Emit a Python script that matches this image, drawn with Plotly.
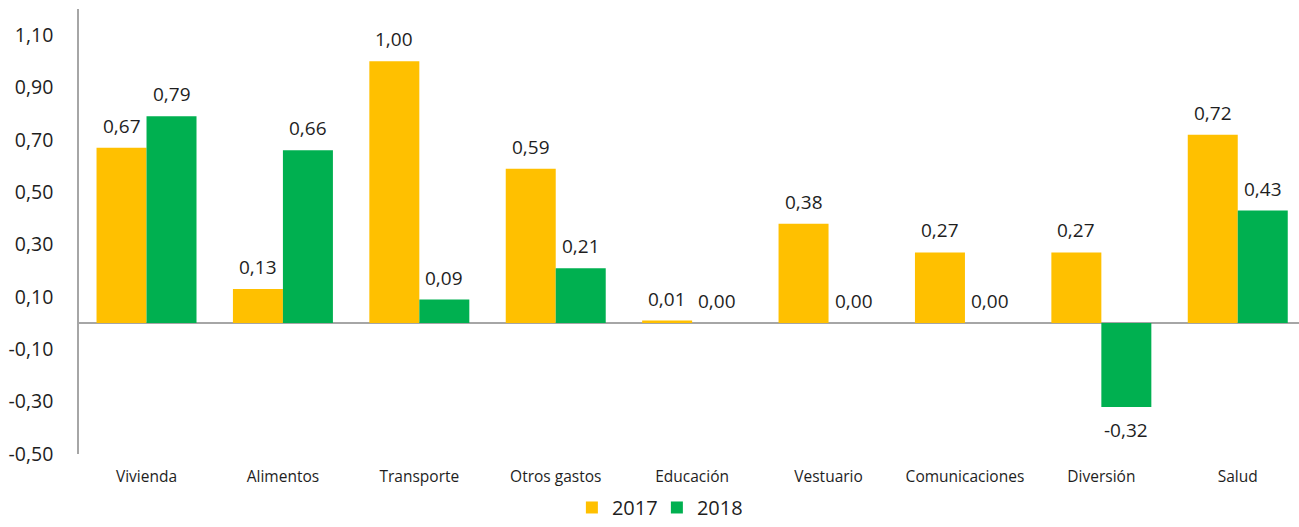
import plotly.graph_objects as go

categories = ["Vivienda", "Alimentos", "Transporte", "Otros gastos", "Educación",
              "Vestuario", "Comunicaciones", "Diversión", "Salud"]
v2017 = [0.67, 0.13, 1.00, 0.59, 0.01, 0.38, 0.27, 0.27, 0.72]
v2018 = [0.79, 0.66, 0.09, 0.21, 0.00, 0.00, 0.00, -0.32, 0.43]
yticks = [-0.5, -0.3, -0.1, 0.1, 0.3, 0.5, 0.7, 0.9, 1.1]

C17 = "#FFC000"
C18 = "#00B050"
FONT = "Open Sans"
TXT = "#1e1e1e"


def fmt(v):
    return f"{v:.2f}".replace(".", ",")


fig = go.Figure()
fig.add_bar(x=categories, y=v2017, name="2017", marker_color=C17, marker_line_width=0)
fig.add_bar(x=categories, y=v2018, name="2018", marker_color=C18, marker_line_width=0)

ann = []
for series, shift in ((v2017, -25), (v2018, 25)):
    for c, v in zip(categories, series):
        ann.append(dict(x=c, y=v, xref="x", yref="y", text=fmt(v),
                        showarrow=False, xshift=shift, yshift=(22 if v >= 0 else -23),
                        font=dict(family=FONT, size=19, color=TXT)))

fig.update_layout(
    width=1299, height=527,
    margin=dict(l=79, r=0, t=9, b=73, autoexpand=False),
    paper_bgcolor="white", plot_bgcolor="white",
    barmode="group", bargap=0.267, bargroupgap=0,
    separators=",.",
    font=dict(family=FONT, color=TXT),
    annotations=ann,
    legend=dict(orientation="h", x=0.404, xanchor="left", y=-0.164, yanchor="bottom",
                font=dict(family=FONT, size=20, color=TXT), itemwidth=30,
                entrywidth=40, entrywidthmode="pixels", tracegroupgap=0),
    showlegend=True,
)
fig.update_xaxes(range=[-0.495, 8.449], showline=False, showgrid=False, ticks="", automargin=False,
                 tickfont=dict(size=15.5, family=FONT, color=TXT), ticklabelstandoff=11)
fig.update_yaxes(range=[-0.5, 1.2], tickvals=yticks, ticktext=[fmt(t) for t in yticks],
                 showgrid=False, showline=True, linecolor="#A6A6A6", linewidth=1.5,
                 zeroline=True, zerolinecolor="#A6A6A6", zerolinewidth=2, automargin=False,
                 tickfont=dict(size=19.5, family=FONT, color=TXT), ticklabelstandoff=20)

fig.write_html("out.html", config={"displayModeBar": False},
               post_script="document.body.style.margin='0';")
